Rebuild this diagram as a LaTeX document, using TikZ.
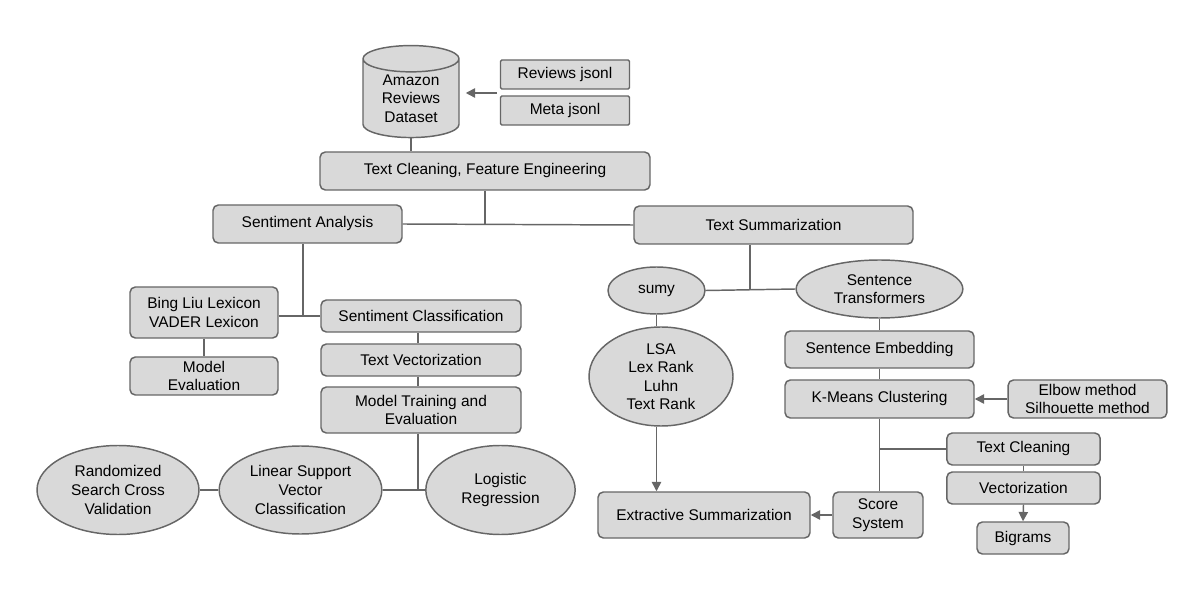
\documentclass[tikz,border=0pt]{standalone}
\usepackage{fontspec}
\setmainfont{Liberation Sans}
\usetikzlibrary{shapes.geometric,arrows.meta}
\definecolor{boxfill}{HTML}{D9D9D9}
\definecolor{boxline}{HTML}{666666}

\begin{document}
\begin{tikzpicture}[x=0.75pt,y=-0.75pt,
  font=\fontsize{11.6}{13.9}\selectfont,
  block/.style={draw=boxline,fill=boxfill,line width=1.1pt,align=center,inner sep=0pt},
  box/.style={block,rounded corners=4pt},
  oval/.style={block,ellipse},
  link/.style={draw=boxline,line width=1.1pt},
  arr/.style={link,-{Triangle[length=7pt,width=7pt]}}]
\useasboundingbox (0,0) rectangle (1196,609);

\node[block,cylinder,shape border rotate=90,aspect=0.45,minimum width=72pt,minimum height=69pt] (data) at (411,98.5) {Amazon\\Reviews\\Dataset};
\node[box,rounded corners=1pt,minimum width=96.75pt,minimum height=21.75pt] (revj) at (565,74.5) {Reviews jsonl};
\node[box,rounded corners=1pt,minimum width=96.75pt,minimum height=21.75pt] (metaj) at (565,110.5) {Meta jsonl};
\node[box,minimum width=247.5pt,minimum height=28.5pt] (clean) at (485,171) {Text Cleaning, Feature Engineering};
\node[box,minimum width=141.75pt,minimum height=28.5pt] (senta) at (307.5,224) {Sentiment Analysis};
\node[box,minimum width=209.25pt,minimum height=28.5pt] (summ) at (773.5,225) {Text Summarization};

\node[box,minimum width=111pt,minimum height=38.25pt] (lexi) at (204,312.5) {Bing Liu Lexicon\\VADER Lexicon};
\node[box,minimum width=111pt,minimum height=28.5pt] (meval) at (204,376) {Model\\Evaluation};
\node[box,minimum width=150pt,minimum height=24pt] (sclass) at (421,316) {Sentiment Classification};
\node[box,minimum width=150pt,minimum height=24pt] (tvec) at (421,360) {Text Vectorization};
\node[box,minimum width=150pt,minimum height=34.5pt] (mtrain) at (421,410) {Model Training and\\Evaluation};
\node[oval,minimum width=121.5pt,minimum height=66.75pt] (rscv) at (118,490) {Randomized\\Search Cross\\Validation};
\node[oval,minimum width=122pt,minimum height=66pt] (lsvc) at (300.5,490) {Linear Support\\Vector\\Classification};
\node[oval,minimum width=112pt,minimum height=66.75pt] (logr) at (500.5,490) {Logistic\\Regression};

\node[oval,minimum width=72.75pt,minimum height=35.25pt] (sumy) at (656.5,290.5) {sumy};
\node[oval,minimum width=125pt,minimum height=43.5pt] (stran) at (879.5,289) {Sentence\\Transformers};
\node[oval,inner ysep=-4pt,minimum width=108pt,minimum height=74.25pt] (algo) at (661,376.5) {LSA\\Lex Rank\\Luhn\\Text Rank};
\node[box,minimum width=159pt,minimum height=34.5pt] (extr) at (704,515) {Extractive Summarization};
\node[box,minimum width=141.75pt,minimum height=27.75pt] (semb) at (879.5,349.5) {Sentence Embedding};
\node[box,minimum width=141.75pt,minimum height=28.5pt] (kmean) at (879.5,399) {K-Means Clustering};
\node[box,minimum width=119pt,minimum height=28.5pt] (elbow) at (1087.5,399) {Elbow method\\Silhouette method};
\node[box,minimum width=67.5pt,minimum height=34.5pt] (score) at (878,515) {Score\\System};
\node[box,minimum width=115pt,minimum height=24pt] (tclean) at (1023.5,449) {Text Cleaning};
\node[box,minimum width=115pt,minimum height=24pt] (vect) at (1023.5,488) {Vectorization};
\node[box,minimum width=69pt,minimum height=24pt] (bigr) at (1023,538) {Bigrams};

\coordinate (jsonl) at (497,93);
\coordinate (split) at (750,289);

\draw[arr,shorten >=4.5pt] (jsonl) -- (jsonl -| data.east);
\draw[link] (data.south) -- (data.south |- clean.north);
\draw[link] (clean.south) -- (clean.south |- senta.east);
\draw[link] (senta.east) -- (summ.west);
\draw[link] ([xshift=-3.4pt]senta.south) -- ([xshift=-3.4pt]senta.south |- sclass.west);
\draw[link] (lexi.east |- sclass.west) -- (sclass.west);
\draw[link] (lexi.south) -- (meval.north);
\draw[link] ([xshift=-2.2pt]sclass.south) -- ([xshift=-2.2pt]tvec.north);
\draw[link] ([xshift=-2.2pt]tvec.south) -- ([xshift=-2.2pt]mtrain.north);
\draw[link] ([xshift=-2.2pt]mtrain.south) -- ([xshift=-2.2pt]mtrain.south |- lsvc.east);
\draw[link] (lsvc.east) -- (logr.west);
\draw[link] (rscv.east) -- (lsvc.west);

\draw[link] (sumy.east) -- (stran.west);
\draw[link] (split) -- (split |- summ.south);
\draw[link] (sumy.south) -- (sumy.south |- algo.north);
\draw[arr] (sumy.south |- algo.south) -- (sumy.south |- extr.north);
\draw[link] (stran.south) -- (semb.north);
\draw[link] (semb.south) -- (kmean.north);
\draw[arr] (elbow.west) -- (kmean.east);
\draw[link] (kmean.south) -- (kmean.south |- score.north);
\draw[link] (kmean.south |- tclean.west) -- (tclean.west);
\draw[arr] (score.west) -- (extr.east);
\draw[link] (tclean.south) -- (vect.north);
\draw[arr] (vect.south) -- (bigr.north);
\end{tikzpicture}
\end{document}
